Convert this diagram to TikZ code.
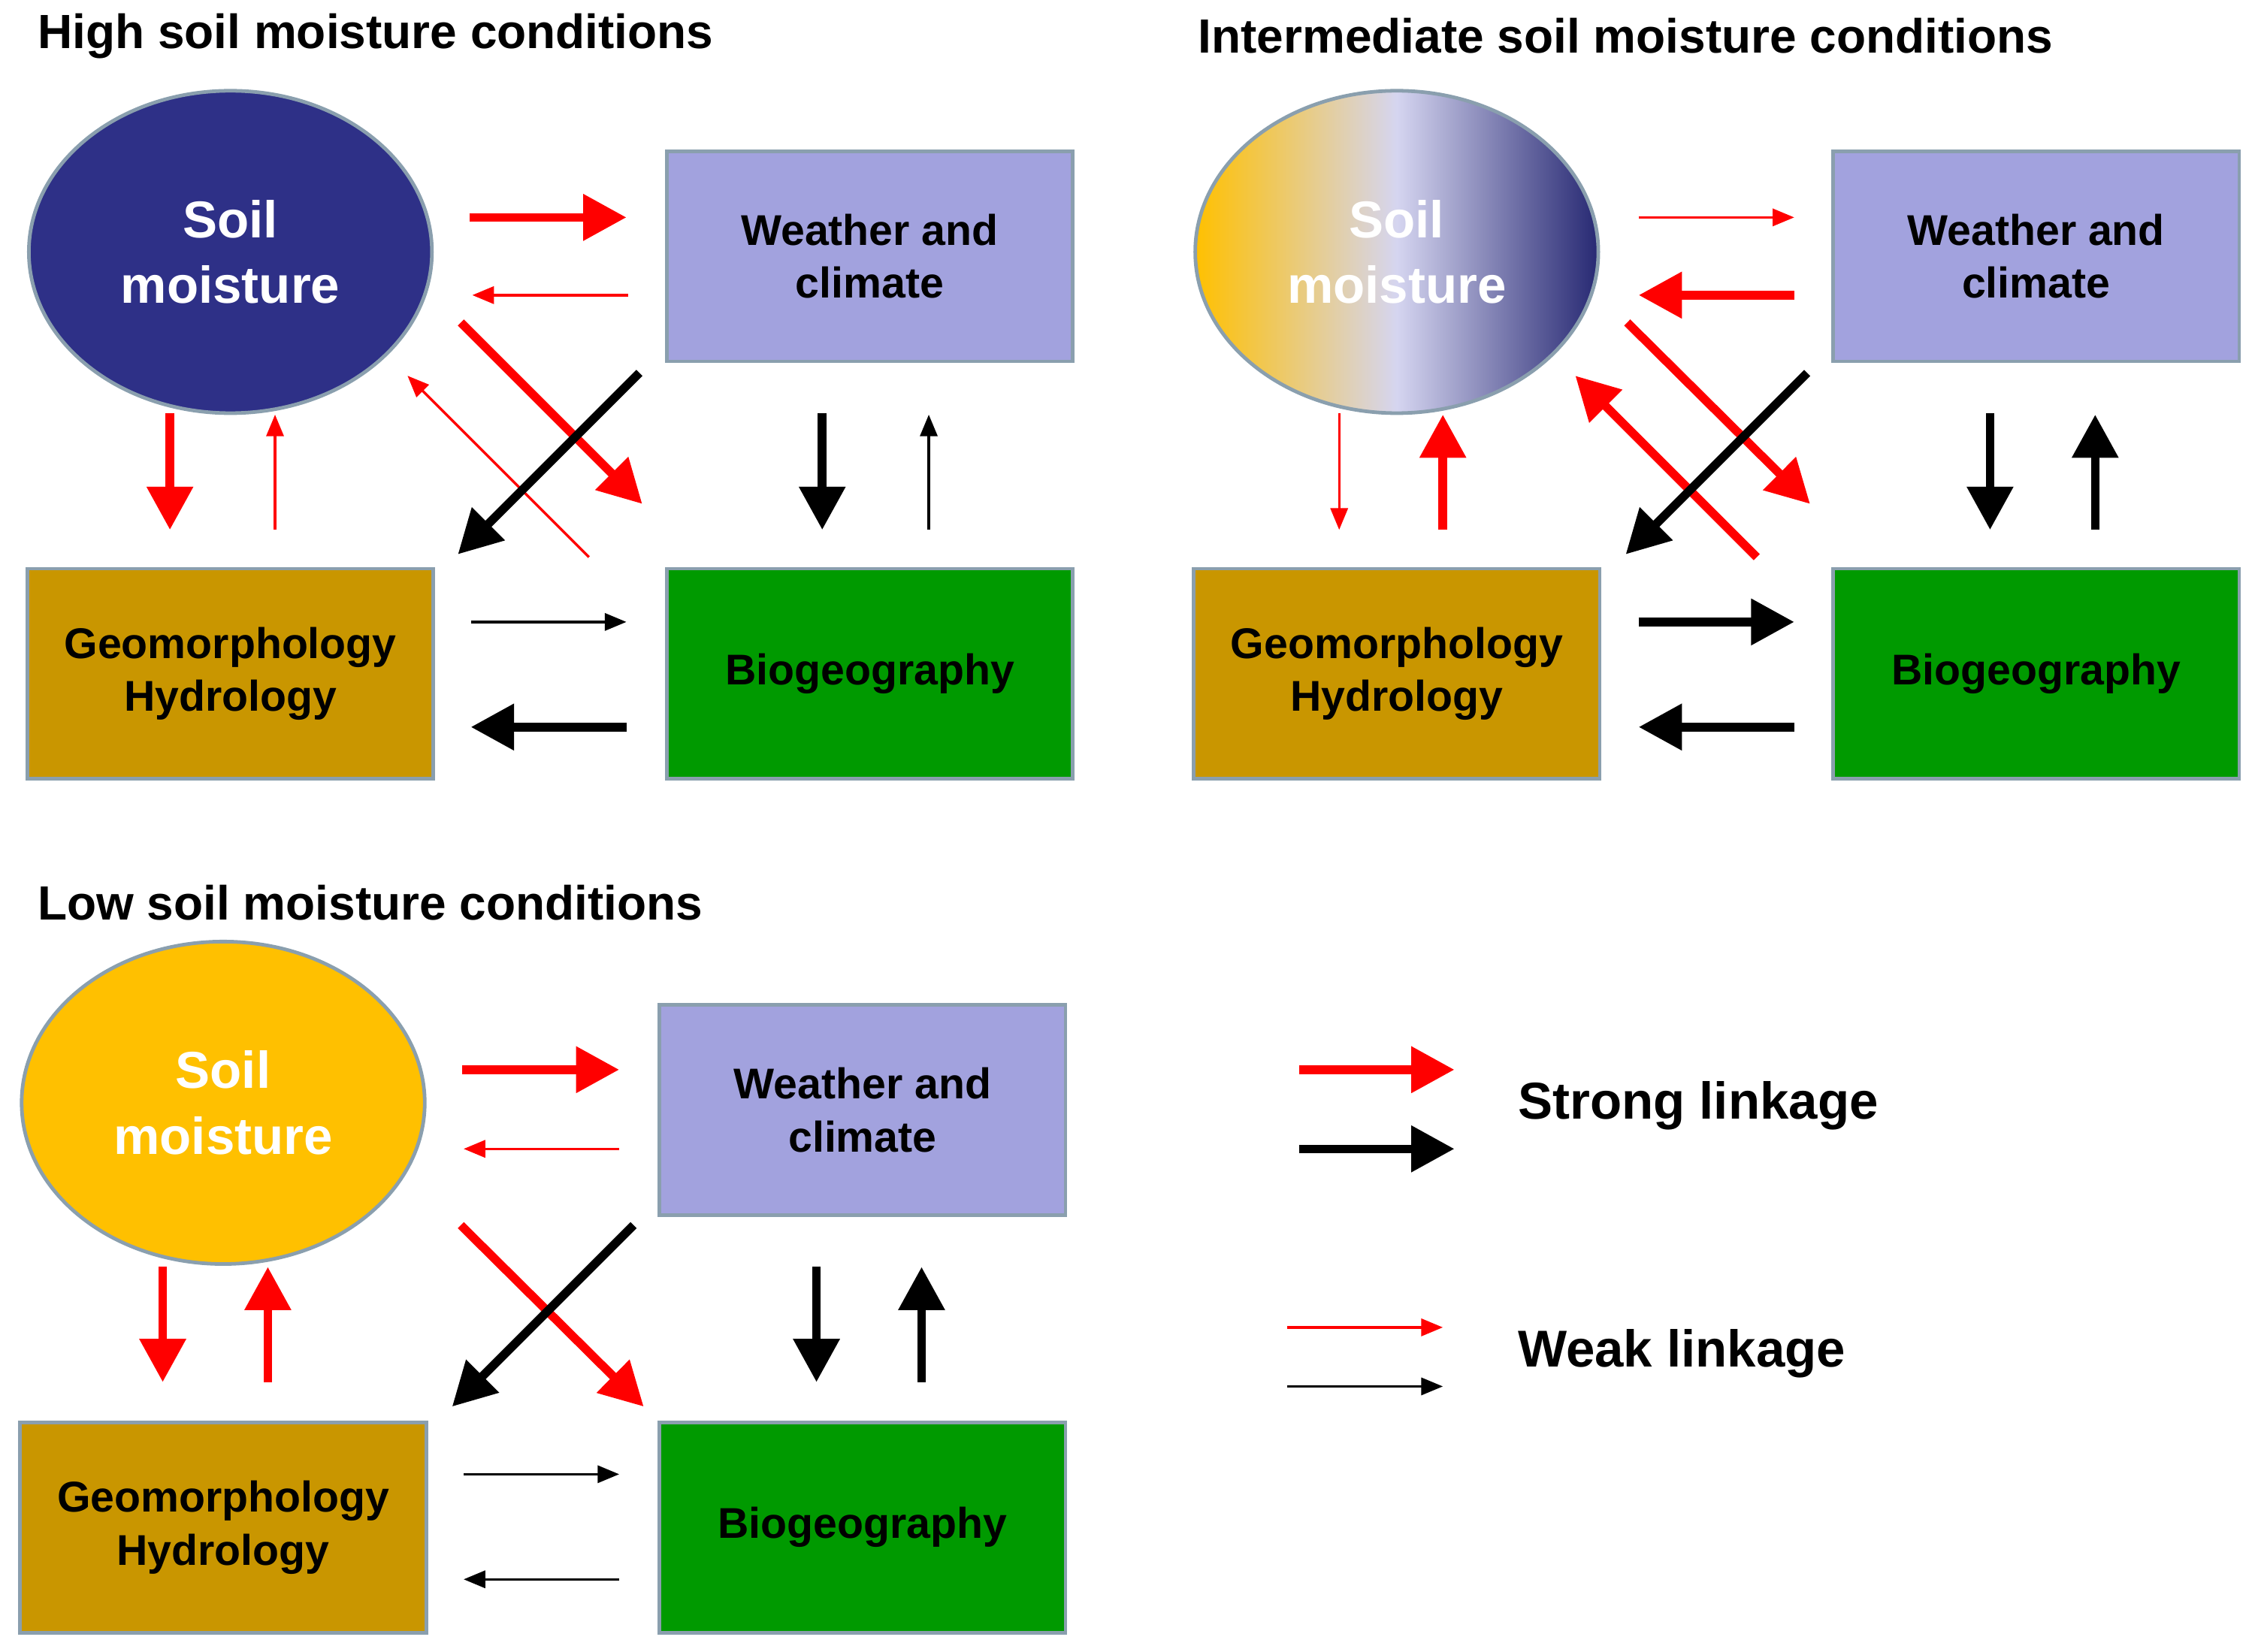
\documentclass[tikz,border=0pt]{standalone}
\usepackage{fontspec}
\setmainfont{Liberation Sans}
\usetikzlibrary{shapes.geometric,arrows.meta}
\definecolor{navy}{HTML}{2E3087}
\definecolor{wc}{HTML}{A2A2DE}
\definecolor{geo}{HTML}{C99600}
\definecolor{bio}{HTML}{009A00}
\definecolor{yel}{HTML}{FFC000}
\definecolor{bord}{HTML}{8A9FAE}
\definecolor{arred}{HTML}{FF0000}
\begin{document}
\begin{tikzpicture}[x=0.02cm,y=-0.02cm,
  box/.style={draw=bord,line width=0.05cm,minimum width=5.64cm,minimum height=2.92cm,align=center,font=\bfseries\fontsize{17}{21}\selectfont},
  sm/.style={ellipse,draw=bord,line width=0.05cm,minimum width=5.6cm,minimum height=4.48cm,align=center,text=white,font=\bfseries\fontsize{20.5}{26}\selectfont},
  title/.style={anchor=west,font=\bfseries\fontsize{19}{23}\selectfont},
  S/.style={line width=0.12cm,-{Triangle[length=0.6cm,width=0.62cm]}},
  W/.style={line width=0.035cm,-{Triangle[length=0.3cm,width=0.24cm]}},
  r/.style={arred}, k/.style={black}]
\useasboundingbox (0,0) rectangle (1566,1147);
% titles
\node[title] (t1) at (20,25) {High soil moisture conditions};
\node[title] (t2) at (826,25) {Intermediate soil moisture conditions};
\node[title] (t3) at (20,627) {Low soil moisture conditions};
% panel 1
\node[sm,fill=navy] (sm1) at (160,175) {Soil\\moisture};
\node[box,fill=wc] (w1) at (604,178) {Weather and\\climate};
\node[box,fill=geo] (g1) at (160,468) {Geomorphology\\Hydrology};
\node[box,fill=bio] (b1) at (604,468) {Biogeography};
\draw[S,r] (326,151) -- (435,151);
\draw[W,r] (436,205) -- (328,205);
\draw[S,r] (118,287) -- (118,368);
\draw[W,r] (191,368) -- (191,288);
\draw[S,r] (320,224) -- (446,350);
\draw[W,r] (409,387) -- (283,261);
\draw[S,k] (444,259) -- (318,385);
\draw[S,k] (571,287) -- (571,368);
\draw[W,k] (645,368) -- (645,288);
\draw[W,k] (327,432) -- (435,432);
\draw[S,k] (435,505) -- (327,505);
% panel 2
\node[sm,left color=yel,right color=navy!85!black,middle color=wc!45!white] (sm2) at (970,175) {Soil\\moisture};
\node[box,fill=wc] (w2) at (1414,178) {Weather and\\climate};
\node[box,fill=geo] (g2) at (970,468) {Geomorphology\\Hydrology};
\node[box,fill=bio] (b2) at (1414,468) {Biogeography};
\draw[W,r] (1138,151) -- (1246,151);
\draw[S,r] (1246,205) -- (1138,205);
\draw[W,r] (930,287) -- (930,368);
\draw[S,r] (1002,368) -- (1002,288);
\draw[S,r] (1130,224) -- (1257,350);
\draw[S,r] (1220,387) -- (1094,261);
\draw[S,k] (1255,259) -- (1129,385);
\draw[S,k] (1382,287) -- (1382,368);
\draw[S,k] (1455,368) -- (1455,288);
\draw[S,k] (1138,432) -- (1246,432);
\draw[S,k] (1246,505) -- (1138,505);
% panel 3
\node[sm,fill=yel] (sm3) at (155,766) {Soil\\moisture};
\node[box,fill=wc] (w3) at (599,771) {Weather and\\climate};
\node[box,fill=geo] (g3) at (155,1061) {Geomorphology\\Hydrology};
\node[box,fill=bio] (b3) at (599,1061) {Biogeography};
\draw[S,r] (321,743) -- (430,743);
\draw[W,r] (430,798) -- (322,798);
\draw[S,r] (113,880) -- (113,960);
\draw[S,r] (186,960) -- (186,880);
\draw[S,r] (320,851) -- (447,977);
\draw[S,k] (440,851) -- (314,977);
\draw[S,k] (567,880) -- (567,960);
\draw[S,k] (640,960) -- (640,880);
\draw[W,k] (322,1024) -- (430,1024);
\draw[W,k] (430,1097) -- (322,1097);
% legend
\draw[S,r] (902,743) -- (1010,743);
\draw[S,k] (902,798) -- (1010,798);
\node[anchor=west,font=\bfseries\fontsize{20.5}{25}\selectfont] (ls) at (1048,768) {Strong linkage};
\draw[W,r] (894,922) -- (1002,922);
\draw[W,k] (894,963) -- (1002,963);
\node[anchor=west,font=\bfseries\fontsize{20.5}{25}\selectfont] (lw) at (1048,940) {Weak linkage};
\end{tikzpicture}
\end{document}
